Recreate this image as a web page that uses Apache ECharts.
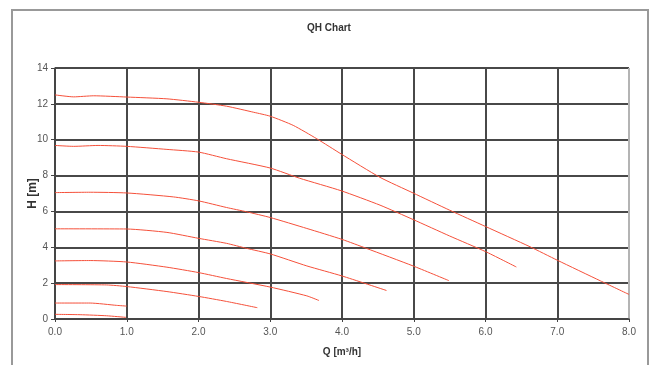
<!DOCTYPE html>
<html><head><meta charset="utf-8">
<script src="https://cdn.jsdelivr.net/npm/echarts@6/dist/echarts.min.js"></script>
<style>html,body{margin:0;padding:0;background:#fff}#c{width:651px;height:365px}</style>
</head><body><div id="c"></div>
<script>
// Tick labels
const xTickLabels = ['0.0','1.0','2.0','3.0','4.0','5.0','6.0','7.0','8.0'];
const yTickLabels = ['0','2','4','6','8','10','12','14'];

// Curves (Q in m3/h, H in m)
const qA = [0, 0.26, 0.54, 1.0, 1.56, 2.0, 2.39, 2.77, 3.0, 3.32, 3.65, 3.99, 4.53, 4.99, 5.5, 6.0, 6.62, 7.0, 7.6, 8.0];
const hA = [12.5, 12.39, 12.45, 12.38, 12.28, 12.09, 11.87, 11.53, 11.31, 10.8, 10.05, 9.2, 7.9, 7.03, 6.07, 5.16, 4.03, 3.28, 2.13, 1.37];
const qB = [0, 0.26, 0.6, 1.0, 1.56, 2.0, 2.39, 3.0, 3.41, 3.99, 4.53, 4.99, 5.5, 6.0, 6.43];
const hB = [9.68, 9.63, 9.68, 9.63, 9.46, 9.31, 8.94, 8.42, 7.85, 7.15, 6.35, 5.55, 4.63, 3.76, 2.9];
const qC = [0, 0.49, 1.0, 1.65, 2.0, 2.39, 2.67, 3.0, 3.51, 4.0, 4.34, 4.99, 5.49];
const hC = [7.05, 7.07, 7.03, 6.81, 6.59, 6.22, 5.98, 5.66, 5.05, 4.44, 3.94, 2.96, 2.14];
const qD = [0, 1.0, 1.56, 2.0, 2.39, 2.67, 3.0, 3.51, 4.0, 4.62];
const hD = [5.03, 5.02, 4.83, 4.5, 4.22, 3.94, 3.63, 2.96, 2.4, 1.59];
const qE = [0, 0.49, 1.0, 1.56, 2.0, 2.39, 3.0, 3.51, 3.68];
const hE = [3.24, 3.26, 3.18, 2.89, 2.59, 2.26, 1.78, 1.29, 1.03];
const qF = [0, 0.72, 1.0, 1.56, 2.0, 2.39, 2.82];
const hF = [1.92, 1.9, 1.81, 1.53, 1.26, 0.98, 0.63];
const qG = [0, 0.49, 0.86, 1.0];
const hG = [0.89, 0.89, 0.76, 0.72];
const qH = [0, 0.35, 0.72, 0.99];
const hH = [0.26, 0.24, 0.18, 0.09];

const curves = [[qA,hA],[qB,hB],[qC,hC],[qD,hD],[qE,hE],[qF,hF],[qG,hG],[qH,hH]];
const qMax = 8;

const chart = echarts.init(document.getElementById('c'), null, {renderer:'canvas'});
const FONT = '"Liberation Sans", Arial, sans-serif';
const series = curves.map(([q,h]) => ({
  type:'line', data:q.map((v,i)=>[v,h[i]]), showSymbol:false, smooth:0.2,
  lineStyle:{color:'#f5503a', width:1}, silent:true, animation:false, z:3
}));

const xGridColors = xTickLabels.map((_, i) => i === xTickLabels.length - 1 ? '#b4b4b4' : '#484848');

chart.setOption({
  animation:false,
  textStyle:{fontFamily:FONT},
  grid:{left:55, right:22, top:68, bottom:46},
  graphic:[
    {type:'rect', shape:{x:12, y:10, width:636, height:370}, style:{fill:'none', stroke:'#999', lineWidth:2}, silent:true, z:-1},
    {type:'text', x:329, y:28, style:{text:'QH Chart', fill:'#333', font:'bold 10px '+FONT, textAlign:'center', textVerticalAlign:'middle'}}
  ],
  xAxis:{
    type:'value', min:0, max:qMax, interval:1,
    name:'Q [m³/h]', nameLocation:'middle', nameGap:28, nameMoveOverlap:false,
    nameTextStyle:{fontWeight:'bold', fontSize:10, color:'#333', fontFamily:FONT},
    axisLine:{show:true, onZero:false, lineStyle:{color:'#444', width:1.5}},
    axisTick:{show:true, length:3, lineStyle:{color:'#444'}},
    axisLabel:{margin:8, fontSize:10, color:'#555', fontFamily:FONT, formatter:(v)=>xTickLabels[Math.round(v)] ?? ''},
    splitLine:{show:true, lineStyle:{color:xGridColors, width:2}}
  },
  yAxis:{
    type:'value', min:0, max:14, interval:2,
    name:'H [m]', nameLocation:'middle', nameGap:16, nameMoveOverlap:false,
    nameTextStyle:{fontWeight:'bold', fontSize:12, color:'#333', fontFamily:FONT},
    axisLine:{show:true, lineStyle:{color:'#444', width:1.5}},
    axisTick:{show:true, length:4, lineStyle:{color:'#444'}},
    axisLabel:{margin:7, fontSize:10, color:'#555', fontFamily:FONT, formatter:(v)=>yTickLabels[Math.round(v/2)] ?? ''},
    splitLine:{show:true, lineStyle:{color:'#484848', width:2}}
  },
  series
});
</script></body></html>
